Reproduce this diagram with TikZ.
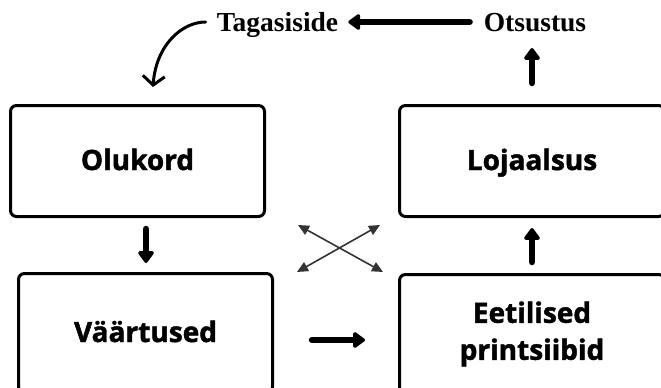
\documentclass[tikz,border=0pt]{standalone}
\usepackage{fontspec}
\setmainfont{Liberation Serif}
\setsansfont{Open Sans}[BoldFeatures={FakeBold=1.6}]
\usetikzlibrary{arrows.meta}
\begin{document}
\begin{tikzpicture}[x=1pt,y=-1pt,
  box/.style={draw=black, line width=3pt, rounded corners=6pt, inner sep=0pt, align=center,
    font=\sffamily\bfseries\fontsize{28}{37}\selectfont},
  oneline/.style={text height=18pt, text depth=0pt},
  thickarrow/.style={line width=6.5pt, line cap=round, -{Triangle[width=18pt,length=13pt,round]}},
  thinarrow/.style={line width=1.6pt, draw=black!80, {Triangle[width=10pt,length=11pt]}-{Triangle[width=10pt,length=11pt]}},
  curvearrow/.style={line width=3pt, line cap=round, -{Straight Barb[length=9pt,width=22pt,line width=3pt]}},
  toplabel/.style={font=\bfseries\fontsize{27.5}{30}\selectfont, inner sep=0pt, anchor=base}
]
\useasboundingbox (0,0) rectangle (661,388);
\clip (0,0) rectangle (661,388);
\fill[white] (0,0) rectangle (661,388);

% boxes
\node[box, oneline, minimum width=254pt, minimum height=111pt] (olukord) at (137.5,161) {Olukord};
\node[box, oneline, minimum width=265pt, minimum height=111pt] (lojaalsus) at (532,161) {Lojaalsus};
\node[box, oneline, minimum width=254pt, minimum height=119pt] (vaartused) at (145.5,333) {Väärtused};
\node[box, minimum width=265pt, minimum height=119pt] (eetilised) at (532,334) {Eetilised\\printsiibid};

% top labels
\node[toplabel] (tag) at (277.5,31) {Tagasiside};
\node[toplabel] (ots) at (535,31) {Otsustus};

% coordinates for free arrow ends
\coordinate (a1s) at (146,229); \coordinate (a1e) at (146,263);
\coordinate (a2s) at (312,340); \coordinate (a2e) at (365,340);
\coordinate (a3s) at (532,262); \coordinate (a3e) at (532,228);
\coordinate (a4s) at (532,83);  \coordinate (a4e) at (532,48);
\coordinate (c1s) at (298,225); \coordinate (c1e) at (383,272);
\coordinate (c2s) at (297,272); \coordinate (c2e) at (380,225);
\coordinate (fb) at (153,87);

% arrows
\draw[thickarrow] (a1s) -- (a1e);
\draw[thickarrow] (a2s) -- (a2e);
\draw[thickarrow] (a3s) -- (a3e);
\draw[thickarrow] (a4s) -- (a4e);
\draw[thickarrow] ([xshift=-14pt,yshift=9pt]ots.base west) -- ([xshift=10pt,yshift=9pt]tag.base east);
\draw[thinarrow] (c1s) -- (c1e);
\draw[thinarrow] (c2s) -- (c2e);
\draw[curvearrow] ([xshift=-11pt,yshift=9pt]tag.base west) .. controls (182,22) and (156,45) .. (fb);
\end{tikzpicture}
\end{document}
